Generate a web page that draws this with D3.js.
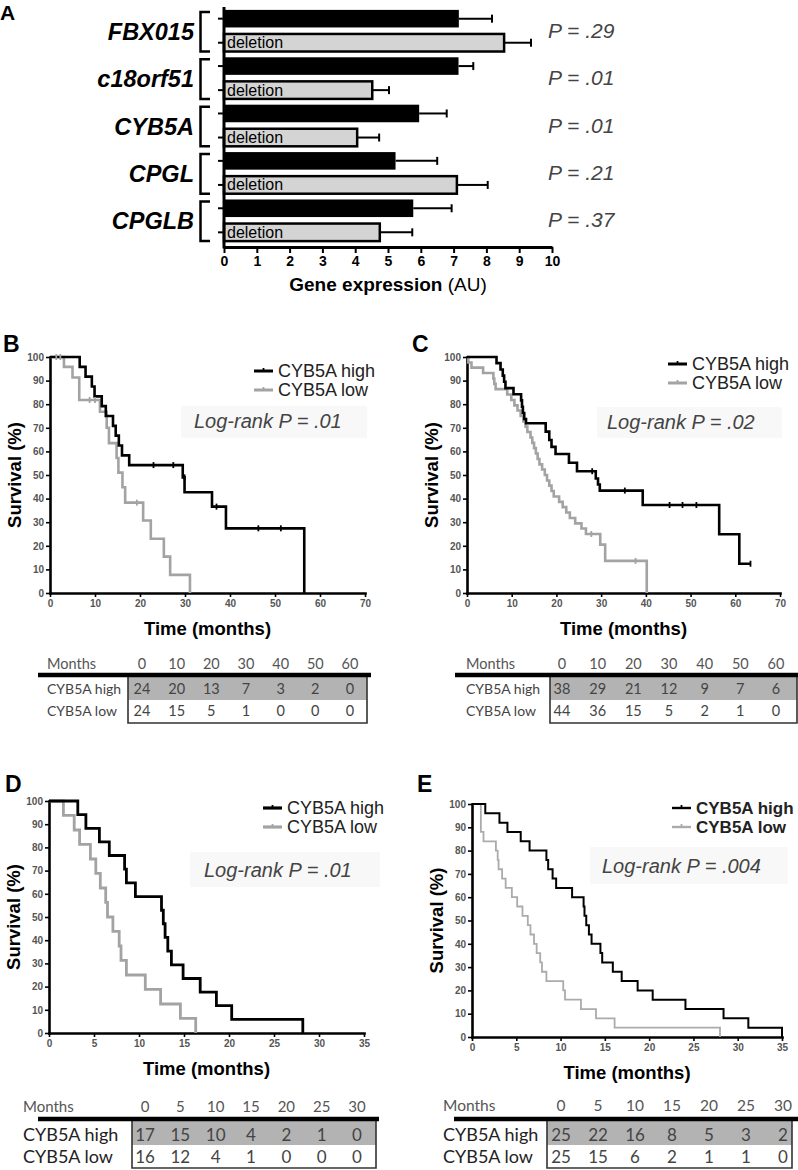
<!DOCTYPE html>
<meta charset="utf-8">
<style>
body { margin: 0; background: #fff; }
svg { font-family: "Liberation Sans", Arial, sans-serif; }
.kmaxis .domain { stroke: #000; stroke-width: 2.6; }
.kmaxis .tick line { stroke: #000; stroke-width: 1.6; }
.kmaxis .tick text { font-family: "Liberation Sans Narrow", "Liberation Sans", Arial, sans-serif; font-weight: bold; font-size: 10px; fill: #555; }
.tab { font-family: Lato, "Open Sans", sans-serif; }
</style>
<svg id="fig" width="798" height="1170"></svg>
<script src="https://cdn.jsdelivr.net/npm/d3@7"></script>
<script>

// ---- panel A data ----
var genes = ["FBX015", "c18orf51", "CYB5A", "CPGL", "CPGLB"];
var exprNormal = [7.16, 7.15, 5.95, 5.23, 5.77];
var exprNormalErr = [1.01, 0.45, 0.84, 1.27, 1.17];
var exprDeletion = [8.54, 4.52, 4.06, 7.10, 4.75];
var exprDeletionErr = [0.82, 0.51, 0.67, 0.94, 0.99];
var pValues = ["P = .29", "P = .01", "P = .01", "P = .21", "P = .37"];
var exprTicks = [0, 1, 2, 3, 4, 5, 6, 7, 8, 9, 10];

// ---- survival curves: [month, survival % after the event] ----
var bHigh = [[6.6,95.8],[7.9,91.7],[9.3,87.5],[9.9,83.3],[11.5,79.2],[12.4,75.0],[14.0,70.8],[14.6,66.7],[15.3,62.5],[16.0,58.3],[17.6,54.2],[29.5,49.0],[29.9,42.7],[36.0,36.6],[39.1,27.4],[56.5,0]];
var bLow = [[3.1,95.8],[5.0,91.3],[6.5,81.8],[11.1,76.8],[12.6,70.0],[13.1,63.5],[14.8,57.2],[15.2,51.0],[16.1,44.8],[16.7,38.3],[20.7,30.7],[22.4,23.0],[25.3,15.4],[26.7,7.7],[31.1,0]];
var bHighCensor = [[23.0,54.2],[27.4,54.2],[29.9,49.0],[37.0,36.6],[46.3,27.4],[51.3,27.4]];
var bLowCensor = [[1.4,100],[2.3,100],[8.8,81.8],[10.0,81.8],[19.3,38.3]];

var cHigh = [[6.6,97.4],[7.5,94.7],[8.0,92.1],[8.3,89.5],[8.6,86.8],[10.4,84.2],[12.1,81.6],[12.3,78.9],[12.5,76.3],[12.8,73.7],[13.2,71.9],[17.6,68.4],[18.4,64.8],[18.9,61.9],[19.8,58.9],[22.8,55.2],[24.6,51.6],[28.8,48.5],[29.3,46.0],[29.7,43.4],[39.3,37.3],[56.4,24.9],[60.9,12.4],[63.4,12.4]];
var cLow = [[0.3,97.7],[1.0,95.5],[3.6,93.2],[5.9,90.9],[6.1,88.6],[6.4,86.4],[9.0,84.1],[9.9,81.8],[10.6,79.5],[11.3,77.3],[12.0,75.0],[12.6,72.7],[13.1,70.5],[13.5,68.2],[14.2,65.9],[14.6,63.6],[15.0,61.4],[15.4,59.1],[15.8,56.8],[16.2,54.5],[16.8,52.3],[17.4,50.0],[17.9,47.7],[18.4,45.5],[18.9,43.2],[19.4,40.9],[20.6,38.6],[21.4,36.4],[22.2,34.1],[23.0,31.8],[24.2,29.5],[25.6,27.3],[26.6,25.0],[29.8,20.5],[30.9,13.6],[40.2,0]];
var cHighCensor = [[28.0,51.6],[35.3,43.4],[45.3,37.3],[48.2,37.3],[51.3,37.3],[63.4,12.4]];
var cLowCensor = [[27.8,25.0],[37.7,13.6]];

var dHigh = [[3.2,94.1],[4.1,88.2],[5.6,82.4],[6.7,76.5],[8.4,70.6],[8.6,64.7],[9.6,58.8],[12.5,52.9],[12.7,47.1],[12.9,41.2],[13.2,35.3],[13.6,29.4],[14.9,23.5],[16.8,17.6],[18.6,11.8],[20.3,5.9],[28.2,0]];
var dLow = [[1.6,93.8],[2.8,87.5],[3.4,81.3],[4.6,75.0],[5.2,68.8],[5.7,62.5],[6.3,56.3],[6.5,50.0],[7.1,43.8],[7.8,37.5],[8.0,31.3],[8.6,25.0],[10.7,18.8],[12.4,12.5],[14.6,6.3],[16.3,0]];

var eHigh = [[1.5,96],[3.1,92],[4.0,88],[5.5,84],[6.5,80],[8.4,76],[8.6,72],[9.1,68],[9.5,64],[11.3,60],[12.6,56],[12.7,52],[12.9,48],[13.2,44],[13.5,40],[14.5,36],[14.7,32],[15.9,28],[16.9,24],[18.7,20],[20.4,16],[24.1,12],[28.4,8],[31.2,4],[35.0,0]];
var eLow = [[1.0,88],[1.3,84],[2.7,80],[2.9,76],[3.0,72],[3.4,68],[3.8,64],[4.5,60],[5.1,56],[5.7,52],[6.3,48],[6.6,44],[7.0,40],[7.3,36],[7.7,32],[7.9,28],[8.4,24],[10.3,20],[10.5,16],[12.3,12],[14.0,8],[16.1,4],[28.0,0]];

var logRankB = "Log-rank P = .01";
var logRankC = "Log-rank P = .02";
var logRankD = "Log-rank P = .01";
var logRankE = "Log-rank P = .004";

// ---- numbers at risk ----
var monthsBC = [0, 10, 20, 30, 40, 50, 60];
var monthsDE = [0, 5, 10, 15, 20, 25, 30];
var bRiskHigh = [24, 20, 13, 7, 3, 2, 0];
var bRiskLow = [24, 15, 5, 1, 0, 0, 0];
var cRiskHigh = [38, 29, 21, 12, 9, 7, 6];
var cRiskLow = [44, 36, 15, 5, 2, 1, 0];
var dRiskHigh = [17, 15, 10, 4, 2, 1, 0];
var dRiskLow = [16, 12, 4, 1, 0, 0, 0];
var eRiskHigh = [25, 22, 16, 8, 5, 3, 2];
var eRiskLow = [25, 15, 6, 2, 1, 1, 0];

var seriesNames = ["CYB5A high", "CYB5A low"];

var svg = d3.select("#fig");

// ================= Panel A =================
(function() {
  var g = svg.append("g");
  var gy = d3.scaleBand().domain(genes).range([7, 244]);
  var sub = d3.scaleBand().domain(["normal", "deletion"]).range([0, gy.bandwidth()])
      .paddingInner(0.27).paddingOuter(0.12);
  var x = d3.scaleLinear().domain([0, 10]).range([224, 552]);
  var bw = sub.bandwidth();

  g.append("text").attr("x", 0).attr("y", 20).attr("font-size", 21).attr("font-weight", "bold").text("A");

  genes.forEach(function(gene, i) {
    var y0 = gy(gene) + sub("normal");
    var y1 = gy(gene) + sub("deletion");
    var mid = gy(gene) + gy.bandwidth() / 2;

    // error bars
    [[y0, exprNormal[i], exprNormalErr[i]], [y1, exprDeletion[i], exprDeletionErr[i]]].forEach(function(b) {
      var cy = b[0] + bw / 2;
      g.append("line").attr("x1", x(b[1])).attr("x2", x(b[1] + b[2])).attr("y1", cy).attr("y2", cy)
        .attr("stroke", "#000").attr("stroke-width", 2);
      g.append("line").attr("x1", x(b[1] + b[2])).attr("x2", x(b[1] + b[2])).attr("y1", cy - 4).attr("y2", cy + 4)
        .attr("stroke", "#000").attr("stroke-width", 2);
    });

    g.append("rect").attr("x", x(0)).attr("y", y0).attr("width", x(exprNormal[i]) - x(0)).attr("height", bw)
      .attr("fill", "#000");
    g.append("rect").attr("x", x(0)).attr("y", y1).attr("width", x(exprDeletion[i]) - x(0)).attr("height", bw)
      .attr("fill", "#d4d4d4").attr("stroke", "#000").attr("stroke-width", 2.5);
    g.append("text").attr("x", 227).attr("y", y1 + bw / 2 + 5.5).attr("font-size", 16).text("deletion");

    // y ticks
    [y0, y1].forEach(function(yy) {
      g.append("line").attr("x1", 218).attr("x2", 224).attr("y1", yy + bw / 2).attr("y2", yy + bw / 2)
        .attr("stroke", "#000").attr("stroke-width", 2);
    });

    // bracket
    g.append("path").attr("d", "M210," + (y0 + 2) + "H200.5V" + (y1 + bw) + "H210")
      .attr("fill", "none").attr("stroke", "#000").attr("stroke-width", 2.5);

    g.append("text").attr("x", 194).attr("y", mid + 9).attr("text-anchor", "end")
      .attr("font-size", 23.5).attr("font-weight", "bold").attr("font-style", "italic").text(gene);

    g.append("text").attr("x", 548).attr("y", mid + 7).attr("font-size", 21).attr("font-style", "italic")
      .attr("fill", "#444").text(pValues[i]);
  });

  g.append("line").attr("x1", 224).attr("x2", 224).attr("y1", 7).attr("y2", 248.5)
    .attr("stroke", "#000").attr("stroke-width", 3);

  var ax = g.append("g").attr("transform", "translate(0,247)")
    .call(d3.axisBottom(x).tickValues(exprTicks).tickSize(6).tickSizeOuter(0).tickPadding(3));
  ax.select(".domain").attr("stroke-width", 3);
  ax.selectAll(".tick line").attr("stroke-width", 2);
  ax.selectAll(".tick text").attr("font-size", 14).attr("font-weight", "bold").attr("font-family", "Liberation Sans, Arial");

  var t = g.append("text").attr("x", 388).attr("y", 291).attr("text-anchor", "middle").attr("font-size", 19);
  t.append("tspan").attr("font-weight", "bold").text("Gene expression ");
  t.append("tspan").text("(AU)");
})();

// ================= Kaplan-Meier panels =================
var kmPanels = [
  { letter: "B", lx: 3, ly: 352, left: 50, right: 365, top: 357, bottom: 593, xMax: 70, xStep: 10,
    high: bHigh, low: bLow, highCens: bHighCensor, lowCens: bLowCensor, logRank: logRankB,
    legX: 278, legY: 377, legBold: false, legSize: 18, box: [181, 406, 367, 438], pX: 194, pY: 428,
    stroke: 2.6, grayStroke: 2.6, gray: "#a3a3a3",
    months: monthsBC, riskHigh: bRiskHigh, riskLow: bRiskLow,
    tab: { headY: 669, c0: 142, c1: 350, lineY: 675, lx0: 38, lx1: 371, bx0: 128, bx1: 367, by1: 723, fy1: 700,
           r1: 694, r2: 716, labX: 47, labSize: 14, numSize: 14.5, headSize: 14.5, labFill: "#444" } },
  { letter: "C", lx: 412, ly: 352, left: 467, right: 780, top: 357, bottom: 593, xMax: 70, xStep: 10,
    high: cHigh, low: cLow, highCens: cHighCensor, lowCens: cLowCensor, logRank: logRankC,
    legX: 692, legY: 370, legBold: false, legSize: 18, box: [597, 407, 782, 438], pX: 607, pY: 429,
    stroke: 2.6, grayStroke: 2.6, gray: "#a3a3a3",
    months: monthsBC, riskHigh: cRiskHigh, riskLow: cRiskLow,
    tab: { headY: 669, c0: 562, c1: 776, lineY: 675, lx0: 455, lx1: 798, bx0: 550, bx1: 797, by1: 723, fy1: 700,
           r1: 694, r2: 716, labX: 466, labSize: 14, numSize: 14.5, headSize: 14.5, labFill: "#444" } },
  { letter: "D", lx: 5, ly: 792, left: 49, right: 364, top: 801, bottom: 1033, xMax: 35, xStep: 5,
    high: dHigh, low: dLow, highCens: [], lowCens: [], logRank: logRankD,
    legX: 287, legY: 814, legBold: false, legSize: 18, box: [190, 852, 380, 887], pX: 204, pY: 877,
    stroke: 2.8, grayStroke: 2.8, gray: "#a3a3a3",
    months: monthsDE, riskHigh: dRiskHigh, riskLow: dRiskLow,
    tab: { headY: 1112, c0: 145, c1: 357, lineY: 1119, lx0: 38, lx1: 379, bx0: 132, bx1: 376, by1: 1168, fy1: 1145,
           r1: 1141, r2: 1163, labX: 23, labSize: 18, numSize: 17, headSize: 15, labFill: "#222" } },
  { letter: "E", lx: 417, ly: 792, left: 472, right: 782, top: 804, bottom: 1037, xMax: 35, xStep: 5,
    high: eHigh, low: eLow, highCens: [], lowCens: [], logRank: logRankE,
    legX: 696, legY: 814, legBold: true, legSize: 17, box: [590, 847, 788, 884], pX: 602, pY: 873,
    stroke: 2, grayStroke: 1.8, gray: "#ababab",
    months: monthsDE, riskHigh: eRiskHigh, riskLow: eRiskLow,
    tab: { headY: 1111, c0: 561, c1: 783, lineY: 1119, lx0: 454, lx1: 798, bx0: 547, bx1: 792, by1: 1168, fy1: 1145,
           r1: 1141, r2: 1163, labX: 443, labSize: 18, numSize: 17, headSize: 15.5, labFill: "#222" } }
];

kmPanels.forEach(drawKM);

function drawKM(p) {
  var g = svg.append("g");
  var x = d3.scaleLinear().domain([0, p.xMax]).range([p.left, p.right]);
  var y = d3.scaleLinear().domain([0, 100]).range([p.bottom, p.top]);

  // log-rank label box
  g.append("rect").attr("x", p.box[0]).attr("y", p.box[1]).attr("width", p.box[2] - p.box[0])
    .attr("height", p.box[3] - p.box[1]).attr("fill", "#f8f8f8");
  g.append("text").attr("x", p.pX).attr("y", p.pY).attr("font-size", 20).attr("font-style", "italic")
    .attr("fill", "#444").text(p.logRank);

  g.append("g").attr("class", "kmaxis").attr("transform", "translate(" + p.left + ",0)")
    .call(d3.axisLeft(y).tickValues(d3.range(0, 101, 10)).tickSize(4).tickSizeOuter(0).tickPadding(2));
  g.append("g").attr("class", "kmaxis").attr("transform", "translate(0," + p.bottom + ")")
    .call(d3.axisBottom(x).tickValues(d3.range(0, p.xMax + 1, p.xStep)).tickSize(4).tickSizeOuter(0).tickPadding(3));
  g.selectAll(".domain").attr("stroke-linecap", "square");

  var line = d3.line().x(function(d) { return x(d[0]); }).y(function(d) { return y(d[1]); })
    .curve(d3.curveStepAfter);

  g.append("path").datum([[0, 100]].concat(p.low)).attr("d", line).attr("fill", "none")
    .attr("stroke", p.gray).attr("stroke-width", p.grayStroke);
  g.append("path").datum([[0, 100]].concat(p.high)).attr("d", line).attr("fill", "none")
    .attr("stroke", "#000").attr("stroke-width", p.stroke);

  [[p.lowCens, p.gray], [p.highCens, "#000"]].forEach(function(c) {
    g.selectAll(null).data(c[0]).enter().append("line")
      .attr("x1", function(d) { return x(d[0]); }).attr("x2", function(d) { return x(d[0]); })
      .attr("y1", function(d) { return y(d[1]) - 3; }).attr("y2", function(d) { return y(d[1]) + 3; })
      .attr("stroke", c[1]).attr("stroke-width", 1.8);
  });

  // legend
  seriesNames.forEach(function(name, i) {
    var ly = p.legY + i * 19;
    var col = i === 0 ? "#000" : p.gray;
    g.append("line").attr("x1", p.legX - 24).attr("x2", p.legX - 5).attr("y1", ly - 6).attr("y2", ly - 6)
      .attr("stroke", col).attr("stroke-width", p.stroke + 0.4);
    g.append("line").attr("x1", p.legX - 14.5).attr("x2", p.legX - 14.5).attr("y1", ly - 9).attr("y2", ly - 6)
      .attr("stroke", col).attr("stroke-width", 1.8);
    g.append("text").attr("x", p.legX).attr("y", ly).attr("font-size", p.legSize)
      .attr("font-weight", p.legBold ? "bold" : "normal").attr("fill", "#222").text(name);
  });

  // axis titles
  g.append("text").attr("x", (p.left + p.right) / 2).attr("y", p.bottom + 42).attr("text-anchor", "middle")
    .attr("font-size", 18.5).attr("font-weight", "bold").text("Time (months)");
  g.append("text").attr("transform", "translate(" + (p.left - 29) + "," + ((p.top + p.bottom) / 2) + ") rotate(-90)")
    .attr("text-anchor", "middle").attr("font-size", 18.5).attr("font-weight", "bold").text("Survival (%)");

  g.append("text").attr("x", p.lx).attr("y", p.ly).attr("font-size", 23).attr("font-weight", "bold").text(p.letter);

  // numbers at risk table
  var t = p.tab;
  var tg = g.append("g").attr("class", "tab");
  var cx = d3.scalePoint().domain(p.months).range([t.c0, t.c1]);

  tg.append("rect").attr("x", t.bx0).attr("y", t.lineY).attr("width", t.bx1 - t.bx0).attr("height", t.fy1 - t.lineY)
    .attr("fill", "#b3b3b3");
  tg.append("path").attr("d", "M" + t.bx0 + "," + t.lineY + "V" + t.by1 + "H" + t.bx1 + "V" + t.lineY)
    .attr("fill", "none").attr("stroke", "#333").attr("stroke-width", 1.6);
  tg.append("line").attr("x1", t.lx0).attr("x2", t.lx1).attr("y1", t.lineY).attr("y2", t.lineY)
    .attr("stroke", "#000").attr("stroke-width", 4.5);

  tg.append("text").attr("x", t.labX).attr("y", t.headY).attr("font-size", t.headSize).attr("fill", "#555").text("Months");
  tg.selectAll(null).data(p.months).enter().append("text")
    .attr("x", function(d) { return cx(d); }).attr("y", t.headY).attr("text-anchor", "middle")
    .attr("font-size", t.headSize).attr("fill", "#555").text(function(d) { return d; });

  [[p.riskHigh, t.r1], [p.riskLow, t.r2]].forEach(function(r, i) {
    tg.append("text").attr("x", t.labX).attr("y", r[1]).attr("font-size", t.labSize).attr("fill", t.labFill)
      .text(seriesNames[i]);
    tg.selectAll(null).data(r[0]).enter().append("text")
      .attr("x", function(d, j) { return cx(p.months[j]); }).attr("y", r[1]).attr("text-anchor", "middle")
      .attr("font-size", t.numSize).attr("fill", "#444").text(function(d) { return d; });
  });
}

</script>
